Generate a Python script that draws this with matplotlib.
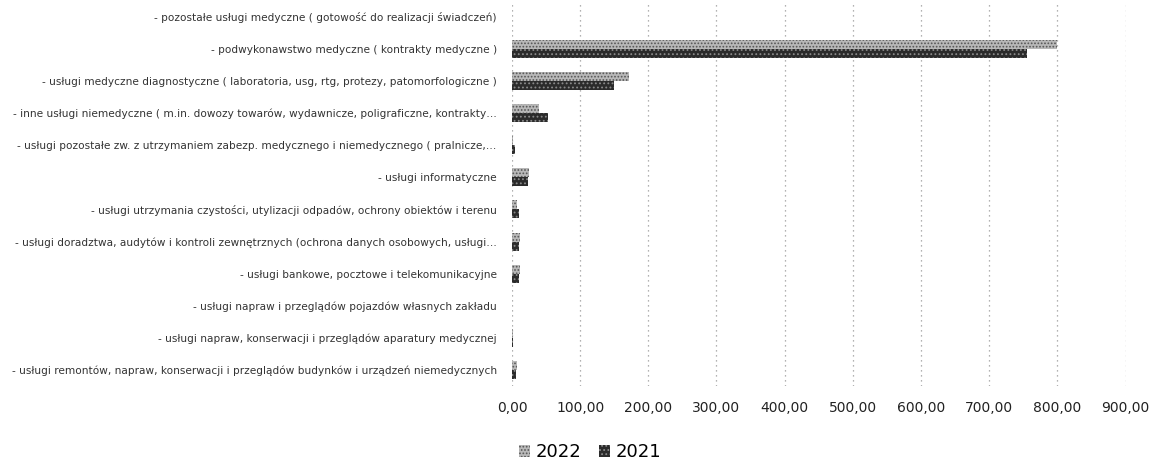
import numpy as np
import matplotlib
matplotlib.use('Agg')
import matplotlib.pyplot as plt
from matplotlib.patches import Patch

# categories top -> bottom as shown in the chart
CATEGORIES = [
    '- pozostałe usługi medyczne ( gotowość do realizacji świadczeń)',
    '- podwykonawstwo medyczne ( kontrakty medyczne )',
    '- usługi medyczne diagnostyczne ( laboratoria, usg, rtg, protezy, patomorfologiczne )',
    '- inne usługi niemedyczne ( m.in. dowozy towarów, wydawnicze, poligraficzne, kontrakty…',
    '- usługi pozostałe zw. z utrzymaniem zabezp. medycznego i niemedycznego ( pralnicze,…',
    '- usługi informatyczne',
    '- usługi utrzymania czystości, utylizacji odpadów, ochrony obiektów i terenu',
    '- usługi doradztwa, audytów i kontroli zewnętrznych (ochrona danych osobowych, usługi…',
    '- usługi bankowe, pocztowe i telekomunikacyjne',
    '- usługi napraw i przeglądów pojazdów własnych zakładu',
    '- usługi napraw, konserwacji i przeglądów aparatury medycznej',
    '- usługi remontów, napraw, konserwacji i przeglądów budynków i urządzeń niemedycznych',
]
V2022 = [0.5, 800, 172, 40, 2, 25, 8, 12, 12, 0.5, 1, 8]
V2021 = [0.3, 755, 150, 53, 5, 24, 10, 11, 10, 0.3, 0.8, 6]
XTICKS = [0, 100, 200, 300, 400, 500, 600, 700, 800, 900]

fig = plt.figure(figsize=(11.62, 4.70), dpi=100)
ax = fig.add_axes([0.4406, 0.179, 0.528, 0.819])

y = np.arange(len(CATEGORIES))
h = 0.28
plt.rcParams['hatch.linewidth'] = 0.8
ax.barh(y - h/2, V2022, h, color='#b8b8b8', hatch='.....', edgecolor='#555555',
        linewidth=0, label='2022')
ax.barh(y + h/2, V2021, h, color='#2b2b2b', hatch='....', edgecolor='#8a8a8a',
        linewidth=0, label='2021')

ax.set_ylim(len(CATEGORIES) - 0.5, -0.5)
ax.set_yticks(y)
ax.set_yticklabels(CATEGORIES, fontsize=7.6, color='#333333')
ax.set_xlim(0, 900)
ax.set_xticks(XTICKS)
ax.set_xticklabels([f'{v:.2f}'.replace('.', ',') for v in XTICKS],
                   fontsize=10, color='#222222')
ax.tick_params(axis='both', length=0)
ax.tick_params(axis='x', pad=11)
ax.tick_params(axis='y', pad=11)
for s in ax.spines.values():
    s.set_visible(False)
ax.grid(axis='x', color='#999999', linestyle=(0, (1, 3)), linewidth=0.9)
ax.set_axisbelow(True)

handles = [Patch(facecolor='#b8b8b8', hatch='.....', edgecolor='#555555', linewidth=0),
           Patch(facecolor='#2b2b2b', hatch='....', edgecolor='#8a8a8a', linewidth=0)]
fig.legend(handles, ['2022', '2021'], loc='center', bbox_to_anchor=(0.508, 0.038),
           ncol=2, frameon=False, fontsize=13, handlelength=0.6, handleheight=0.6,
           handletextpad=0.3, columnspacing=1.0)

fig.savefig('out.png', dpi=100)
